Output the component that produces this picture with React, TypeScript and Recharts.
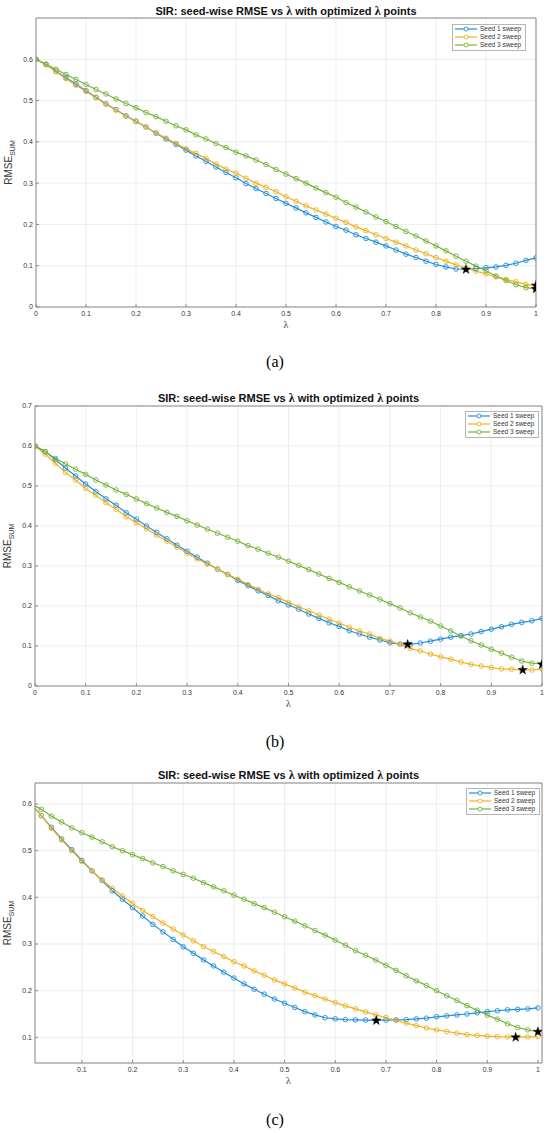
import React from "react"
import {
  ComposedChart,
  Line,
  XAxis,
  YAxis,
  CartesianGrid,
  Legend,
  Label,
  Symbols,
} from "recharts"

// λ sweep grid shared by all three panels
const LAMBDA = [
  0, 0.02, 0.04, 0.06, 0.08, 0.1, 0.12, 0.14, 0.16, 0.18, 0.2, 0.22, 0.24, 0.26, 0.28, 0.3, 0.32,
  0.34, 0.36, 0.38, 0.4, 0.42, 0.44, 0.46, 0.48, 0.5, 0.52, 0.54, 0.56, 0.58, 0.6, 0.62, 0.64, 0.66,
  0.68, 0.7, 0.72, 0.74, 0.76, 0.78, 0.8, 0.82, 0.84, 0.86, 0.88, 0.9, 0.92, 0.94, 0.96, 0.98, 1,
]

const SERIES_NAMES = ["Seed 1 sweep", "Seed 2 sweep", "Seed 3 sweep"]

// (a)
const SEED1_A = [
  0.6, 0.588, 0.571, 0.555, 0.54, 0.524, 0.508, 0.492, 0.478, 0.463, 0.45, 0.436, 0.421, 0.407, 0.394,
  0.38, 0.366, 0.353, 0.339, 0.326, 0.313, 0.299, 0.287, 0.275, 0.263, 0.251, 0.24, 0.228, 0.217,
  0.206, 0.195, 0.186, 0.175, 0.166, 0.157, 0.148, 0.138, 0.128, 0.12, 0.111, 0.103, 0.097, 0.092,
  0.091, 0.093, 0.095, 0.097, 0.101, 0.106, 0.113, 0.119,
]
const SEED2_A = [
  0.6, 0.587, 0.57, 0.553, 0.537, 0.522, 0.507, 0.491, 0.477, 0.462, 0.449, 0.436, 0.422, 0.409, 0.396,
  0.383, 0.372, 0.36, 0.346, 0.334, 0.324, 0.312, 0.3, 0.29, 0.279, 0.267, 0.256, 0.245, 0.235, 0.225,
  0.215, 0.205, 0.194, 0.185, 0.175, 0.166, 0.157, 0.148, 0.138, 0.129, 0.12, 0.111, 0.102, 0.094,
  0.087, 0.08, 0.073, 0.067, 0.061, 0.055, 0.052,
]
const SEED3_A = [
  0.6, 0.588, 0.576, 0.563, 0.551, 0.539, 0.527, 0.516, 0.504, 0.493, 0.483, 0.471, 0.461, 0.45, 0.439,
  0.429, 0.417, 0.407, 0.396, 0.386, 0.375, 0.366, 0.356, 0.345, 0.333, 0.322, 0.311, 0.3, 0.288,
  0.277, 0.266, 0.253, 0.242, 0.23, 0.218, 0.207, 0.195, 0.183, 0.172, 0.16, 0.148, 0.136, 0.123,
  0.111, 0.099, 0.088, 0.075, 0.064, 0.054, 0.047, 0.044,
]
const STAR_LAM_A = [0.86, 1, 1]
const STAR_VAL_A = [0.091, 0.052, 0.044]

// (b)
const SEED1_B = [
  0.6, 0.586, 0.566, 0.545, 0.525, 0.505, 0.486, 0.468, 0.452, 0.433, 0.417, 0.4, 0.384, 0.368, 0.352,
  0.337, 0.322, 0.307, 0.292, 0.279, 0.264, 0.251, 0.238, 0.226, 0.213, 0.2025, 0.192, 0.18, 0.169,
  0.158, 0.149, 0.138, 0.13, 0.122, 0.115, 0.108, 0.105, 0.104, 0.1075, 0.112, 0.117, 0.122, 0.126,
  0.13, 0.136, 0.142, 0.148, 0.154, 0.159, 0.163, 0.169,
]
const SEED2_B = [
  0.6, 0.58, 0.557, 0.534, 0.515, 0.494, 0.477, 0.458, 0.442, 0.423, 0.408, 0.3925, 0.377, 0.362,
  0.347, 0.332, 0.3175, 0.305, 0.2925, 0.279, 0.267, 0.254, 0.242, 0.23, 0.221, 0.209, 0.198, 0.188,
  0.1775, 0.167, 0.157, 0.147, 0.1375, 0.13, 0.119, 0.112, 0.104, 0.094, 0.0875, 0.08, 0.073, 0.067,
  0.06, 0.054, 0.05, 0.046, 0.0425, 0.042, 0.04, 0.04, 0.042,
]
const SEED3_B = [
  0.6, 0.586, 0.569, 0.555, 0.542, 0.529, 0.515, 0.5025, 0.49, 0.479, 0.4675, 0.456, 0.445, 0.434,
  0.424, 0.413, 0.4025, 0.392, 0.382, 0.372, 0.362, 0.351, 0.342, 0.332, 0.322, 0.312, 0.3015, 0.291,
  0.28, 0.269, 0.259, 0.248, 0.2375, 0.2275, 0.217, 0.206, 0.195, 0.183, 0.1725, 0.162, 0.15, 0.138,
  0.125, 0.113, 0.1025, 0.092, 0.082, 0.072, 0.0625, 0.057, 0.055,
]
const STAR_LAM_B = [0.735, 0.962, 1]
const STAR_VAL_B = [0.104, 0.04, 0.054]

// (c)
const SEED1_C = [
  0.6, 0.575, 0.55, 0.525, 0.502, 0.479, 0.457, 0.436, 0.414, 0.396, 0.378, 0.36, 0.342, 0.326, 0.31,
  0.294, 0.28, 0.266, 0.253, 0.2395, 0.227, 0.2145, 0.203, 0.1925, 0.182, 0.173, 0.164, 0.155, 0.148,
  0.142, 0.1395, 0.138, 0.1375, 0.137, 0.1365, 0.137, 0.1375, 0.138, 0.1395, 0.141, 0.144, 0.146,
  0.148, 0.15, 0.1525, 0.155, 0.157, 0.159, 0.16, 0.161, 0.163,
]
const SEED2_C = [
  0.6, 0.575, 0.548, 0.523, 0.5, 0.477, 0.4565, 0.437, 0.4195, 0.403, 0.387, 0.372, 0.359, 0.345,
  0.332, 0.3195, 0.307, 0.2945, 0.284, 0.273, 0.262, 0.253, 0.2425, 0.233, 0.223, 0.2145, 0.206, 0.197,
  0.1895, 0.182, 0.1745, 0.1675, 0.161, 0.1545, 0.148, 0.1425, 0.136, 0.1305, 0.125, 0.12, 0.116,
  0.1125, 0.109, 0.106, 0.104, 0.1025, 0.1015, 0.101, 0.1005, 0.101, 0.1015,
]
const SEED3_C = [
  0.6, 0.5885, 0.574, 0.5615, 0.549, 0.5385, 0.529, 0.519, 0.5085, 0.5, 0.4915, 0.483, 0.474, 0.466,
  0.457, 0.449, 0.441, 0.4315, 0.4225, 0.414, 0.4045, 0.396, 0.3865, 0.378, 0.368, 0.3585, 0.349,
  0.339, 0.329, 0.319, 0.308, 0.2975, 0.2855, 0.276, 0.2655, 0.2545, 0.2435, 0.232, 0.221, 0.211, 0.2,
  0.189, 0.179, 0.168, 0.158, 0.1475, 0.139, 0.129, 0.121, 0.116, 0.112,
]
const STAR_LAM_C = [0.681, 0.956, 1]
const STAR_VAL_C = [0.136, 0.1, 0.112]

const X_TICKS = [0, 0.1, 0.2, 0.3, 0.4, 0.5, 0.6, 0.7, 0.8, 0.9, 1]
const X_TICKS_C = [0.1, 0.2, 0.3, 0.4, 0.5, 0.6, 0.7, 0.8, 0.9, 1]
const Y_TICKS_A = [0, 0.1, 0.2, 0.3, 0.4, 0.5, 0.6]
const Y_TICKS_B = [0, 0.1, 0.2, 0.3, 0.4, 0.5, 0.6, 0.7]
const Y_TICKS_C = [0.1, 0.2, 0.3, 0.4, 0.5, 0.6]

const COLORS = ["#1f8fdc", "#efb11f", "#74b53a"]
const SANS = '"Liberation Sans", Arial, Helvetica, sans-serif'
const SERIF = '"Liberation Serif", "DejaVu Serif", serif'
const AXIS = "#8a8a8a"
const TEXT = "#363636"

const makeRows = (s1: number[], s2: number[], s3: number[]) =>
  LAMBDA.map((lam, i) => ({ lam, s1: s1[i], s2: s2[i], s3: s3[i] }))

const makeStars = (lams: number[], vals: number[]) => lams.map((lam, i) => ({ lam, v: vals[i] }))

const PANELS = [
  {
    caption: "(a)",
    top: 0, height: 380, plotLeft: 36, plotRight: 536, plotTop: 18, plotBottom: 307,
    titleY: 11, legendLeft: 452, legendTop: 24, captionY: 362,
    xDomain: [0, 1], yDomain: [0, 0.7], xTicks: X_TICKS, yTicks: Y_TICKS_A,
    rows: makeRows(SEED1_A, SEED2_A, SEED3_A), stars: makeStars(STAR_LAM_A, STAR_VAL_A),
  },
  {
    caption: "(b)",
    top: 380, height: 380, plotLeft: 35, plotRight: 542, plotTop: 26, plotBottom: 306,
    titleY: 18, legendLeft: 465, legendTop: 31, captionY: 362,
    xDomain: [0, 1], yDomain: [0, 0.7], xTicks: X_TICKS, yTicks: Y_TICKS_B,
    rows: makeRows(SEED1_B, SEED2_B, SEED3_B), stars: makeStars(STAR_LAM_B, STAR_VAL_B),
  },
  {
    caption: "(c)",
    top: 760, height: 373, plotLeft: 35, plotRight: 542, plotTop: 23, plotBottom: 303,
    titleY: 15, legendLeft: 466, legendTop: 28, captionY: 360,
    xDomain: [0.0075, 1.008], yDomain: [0.045, 0.645], xTicks: X_TICKS_C, yTicks: Y_TICKS_C,
    rows: makeRows(SEED1_C, SEED2_C, SEED3_C), stars: makeStars(STAR_LAM_C, STAR_VAL_C),
  },
]

const renderStar = (props: any) => {
  if (props.cx == null || props.cy == null) return <g key={`star-${props.index}`} />
  return (
    <Symbols
      key={`star-${props.index}`}
      cx={props.cx}
      cy={props.cy}
      type="star"
      size={28}
      fill="#000"
      stroke="#000"
      strokeWidth={0.4}
    />
  )
}

const renderLegend = (props: any) => {
  const items = (props.payload ?? []).filter((p: any) => p.type !== "none")
  return (
    <div
      style={{
        border: "1px solid #b5b5b5",
        background: "#fff",
        padding: "0px 4px 1px 2px",
        fontFamily: SANS,
        fontSize: 6.5,
        color: TEXT,
        lineHeight: "8px",
      }}
    >
      {items.map((p: any) => (
        <div key={p.value} style={{ display: "flex", alignItems: "center", height: 8 }}>
          <svg width={22} height={6} style={{ display: "block" }}>
            <line x1={0} x2={22} y1={3} y2={3} stroke={p.color} strokeWidth={1.2} />
            <circle cx={11} cy={3} r={2} fill="#fff" stroke={p.color} strokeWidth={0.9} />
          </svg>
          <span style={{ marginLeft: 3, whiteSpace: "nowrap" }}>{p.value}</span>
        </div>
      ))}
    </div>
  )
}

function Panel({ cfg }: { cfg: (typeof PANELS)[number] }) {
  const yAxisW = 30
  const xAxisH = 20
  const plotW = cfg.plotRight - cfg.plotLeft
  const margin = {
    top: cfg.plotTop - 1,
    right: 550 - cfg.plotRight - 1,
    left: cfg.plotLeft - yAxisW,
    bottom: cfg.height - cfg.plotBottom - xAxisH,
  }
  const tickStyle = { fontSize: 7, fill: TEXT, fontFamily: SANS }

  return (
    <div style={{ position: "absolute", left: 0, top: cfg.top, width: 550, height: cfg.height }}>
      <ComposedChart width={550} height={cfg.height} data={cfg.rows} margin={margin}>
        <CartesianGrid stroke="#e9e9e9" strokeWidth={0.8} />
        <XAxis
          dataKey="lam"
          type="number"
          domain={cfg.xDomain}
          ticks={cfg.xTicks}
          allowDataOverflow
          height={xAxisH}
          tickSize={-3}
          tickMargin={7.5}
          tick={tickStyle}
          stroke={AXIS}
          axisLine={{ stroke: AXIS }}
          tickLine={{ stroke: AXIS }}
        >
          <Label
            content={(p: any) => (
              <text
                x={p.viewBox.x + p.viewBox.width / 2}
                y={p.viewBox.y + 21}
                textAnchor="middle"
                fontFamily={SERIF}
                fontSize={10}
                fill={TEXT}
              >
                λ
              </text>
            )}
          />
        </XAxis>
        <XAxis
          xAxisId="top"
          orientation="top"
          dataKey="lam"
          type="number"
          domain={cfg.xDomain}
          ticks={cfg.xTicks}
          allowDataOverflow
          height={1}
          tickSize={-3}
          tick={false}
          axisLine={{ stroke: AXIS }}
          tickLine={{ stroke: AXIS }}
        />
        <YAxis
          type="number"
          domain={cfg.yDomain}
          ticks={cfg.yTicks}
          allowDataOverflow
          width={yAxisW}
          tickSize={-3}
          tickMargin={6}
          tick={tickStyle}
          axisLine={{ stroke: AXIS }}
          tickLine={{ stroke: AXIS }}
        >
          <Label
            content={(p: any) => {
              const cx = p.viewBox.x + p.viewBox.width - 24
              const cy = p.viewBox.y + p.viewBox.height / 2
              return (
                <text
                  x={cx}
                  y={cy}
                  transform={`rotate(-90, ${cx}, ${cy})`}
                  textAnchor="middle"
                  fontFamily={SANS}
                  fontSize={10}
                  fill={TEXT}
                >
                  <tspan>RMSE</tspan>
                  <tspan fontSize={7} dy={2.5}>SUM</tspan>
                </text>
              )
            }}
          />
        </YAxis>
        <YAxis
          yAxisId="right"
          orientation="right"
          type="number"
          domain={cfg.yDomain}
          ticks={cfg.yTicks}
          allowDataOverflow
          width={1}
          tickSize={-3}
          tick={false}
          axisLine={{ stroke: AXIS }}
          tickLine={{ stroke: AXIS }}
        />
        {["s1", "s2", "s3"].map((key, i) => (
          <Line
            key={key}
            dataKey={key}
            name={SERIES_NAMES[i]}
            stroke={COLORS[i]}
            strokeWidth={1.2}
            dot={{ r: 2.3, strokeWidth: 0.9, fill: "none", stroke: COLORS[i] }}
            activeDot={false}
            isAnimationActive={false}
          />
        ))}
        <Line
          data={cfg.stars}
          dataKey="v"
          name="optimized"
          stroke="none"
          legendType="none"
          dot={renderStar}
          activeDot={false}
          isAnimationActive={false}
        />
        <Legend
          layout="horizontal"
          verticalAlign="middle"
          align="center"
          content={renderLegend}
          wrapperStyle={{ left: cfg.legendLeft, top: cfg.legendTop, width: "auto" }}
        />
      </ComposedChart>
      <div
        style={{
          position: "absolute",
          left: cfg.plotLeft,
          width: plotW,
          top: cfg.titleY - 7,
          height: 14,
          lineHeight: "14px",
          textAlign: "center",
          fontFamily: SANS,
          fontWeight: "bold",
          fontSize: 11,
          color: "#111",
          whiteSpace: "nowrap",
        }}
      >
        SIR: seed-wise RMSE vs <span style={{ fontFamily: SERIF, fontSize: 12 }}>λ</span> with
        optimized <span style={{ fontFamily: SERIF, fontSize: 12 }}>λ</span> points
      </div>
      <div
        style={{
          position: "absolute",
          left: 0,
          width: 550,
          top: cfg.captionY - 10,
          height: 20,
          lineHeight: "20px",
          textAlign: "center",
          fontFamily: SERIF,
          fontSize: 16,
          color: "#000",
        }}
      >
        {cfg.caption}
      </div>
    </div>
  )
}

export default function App() {
  return (
    <div
      style={{
        position: "absolute",
        left: 0,
        top: 0,
        width: 550,
        height: 1133,
        background: "#fff",
        overflow: "hidden",
      }}
    >
      {PANELS.map((cfg) => (
        <Panel key={cfg.caption} cfg={cfg} />
      ))}
    </div>
  )
}
